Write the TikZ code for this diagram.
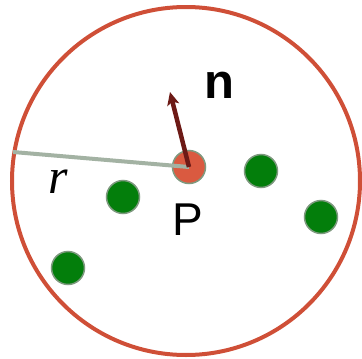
\documentclass[tikz,border=0pt]{standalone}
\usepackage{fontspec}
\setmainfont{Liberation Sans}
\newfontfamily\timesfont{Liberation Serif}
\usetikzlibrary{arrows.meta}
\definecolor{rimred}{HTML}{CF4F37}
\definecolor{dotred}{HTML}{DA5A40}
\definecolor{dotgreen}{HTML}{037E0B}
\definecolor{dotrim}{HTML}{7F9A80}
\definecolor{radgray}{HTML}{A3B2A3}
\definecolor{normred}{HTML}{6D1A16}

\begin{document}
\begin{tikzpicture}[x=1pt,y=-1pt,
    point/.style={circle, fill=dotgreen, draw=dotrim, line width=1.5pt, minimum size=33pt, inner sep=0pt},
    query/.style={point, fill=dotred}]
    \useasboundingbox (0,0) rectangle (362,359);

    % Draw the neighbourhood circle
    \def\rad{174}
    \draw[rimred, line width=4pt] (186,181) circle (\rad);

    % Draw the query point and its neighbours
    \node[query] (P) at (189,167) {};
    \node[point] (q1) at (123,197) {};
    \node[point] (q2) at (261,171) {};
    \node[point] (q3) at (321,217) {};
    \node[point] (q4) at (68,268) {};

    % Radius and normal
    \coordinate (rim) at (13,152);
    \coordinate (ntip) at (170,92);
    \draw[radgray, line width=4pt] (rim) -- (P.center);
    \draw[normred, line width=4.5pt, -{Stealth[length=13pt,width=12pt,inset=3pt]}] (P.center) -- (ntip);

    % Labels
    \node (rlabel) at (58,182) {\fontsize{50}{50}\selectfont\timesfont\itshape r};
    \node (plabel) at (188,220) {\fontsize{46}{46}\selectfont P};
    \node (nlabel) at (219,85) {\fontsize{49}{49}\selectfont\bfseries n};
\end{tikzpicture}
\end{document}
